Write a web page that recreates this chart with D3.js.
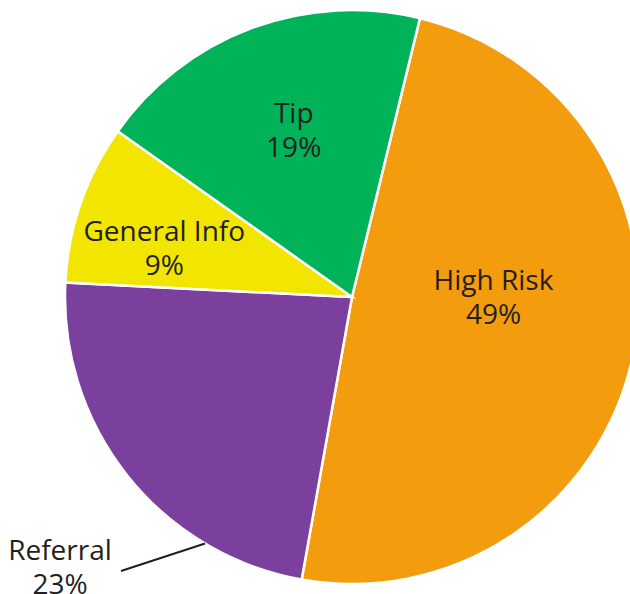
<!DOCTYPE html>
<html>
<head>
<meta charset="utf-8">
<script src="https://cdn.jsdelivr.net/npm/d3@7"></script>
<style>
  html, body { margin: 0; padding: 0; background: #fff; overflow: hidden; }
  text { font-family: "Open Sans", "Noto Sans", sans-serif; fill: #231f20; }
</style>
</head>
<body>
<script>
// data, clockwise from the top-right
let categories = ["High Risk", "Referral", "General Info", "Tip"];
let shares = [49, 23, 9, 19];
let pctLabels = ["49%", "23%", "9%", "19%"];
let colors = ["#f39c0e", "#7b3f9e", "#f2e500", "#00b359"];

let width = 630, height = 594;
let cx = 352, cy = 297, radius = 287;

let svg = d3.select("body").append("svg")
    .attr("width", width)
    .attr("height", height)

let g = svg.append("g").attr("transform", `translate(${cx},${cy})`)

let pie = d3.pie()
    .sort(null)
    .startAngle(13.7 * Math.PI / 180)
    .endAngle(13.7 * Math.PI / 180 + 2 * Math.PI)

let arcs = pie(shares)

let arc = d3.arc().innerRadius(0).outerRadius(radius)
let labelArc = d3.arc().innerRadius(radius * 0.6).outerRadius(radius * 0.6)

g.selectAll("path")
    .data(arcs)
    .enter()
    .append("path")
    .attr("d", arc)
    .attr("fill", (d, i) => colors[i])
    .attr("stroke", "#fff")
    .attr("stroke-width", 2.5)

// hand nudges so labels sit where the original put them
let nudge = [[-27, -37], null, [-25, 6], [2, -7]];

arcs.forEach((d, i) => {
    let x, y;
    if (nudge[i]) {
        let c = labelArc.centroid(d);
        x = c[0] + nudge[i][0];
        y = c[1] + nudge[i][1];
    } else {
        // Referral: label outside with a leader line
        let a = d.startAngle + (d.endAngle - d.startAngle) * 0.25;
        let px = Math.sin(a) * radius, py = -Math.cos(a) * radius;
        g.append("line")
            .attr("x1", px).attr("y1", py)
            .attr("x2", 121 - cx).attr("y2", 571 - cy)
            .attr("stroke", "#231f20")
            .attr("stroke-width", 2)
        x = 60 - cx;
        y = 566 - cy;
    }
    let t = g.append("text")
        .attr("text-anchor", "middle")
        .attr("font-size", 28)
    t.append("tspan").attr("x", x).attr("y", y - 6).text(categories[i])
    t.append("tspan").attr("x", x).attr("y", y + 28).text(pctLabels[i])
})
</script>
</body>
</html>
